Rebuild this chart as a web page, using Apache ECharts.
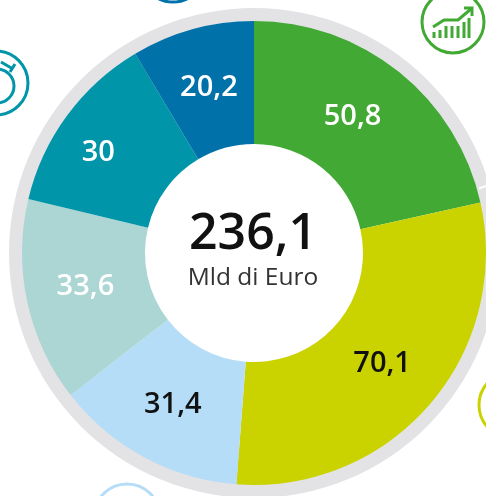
<!DOCTYPE html>
<html>
<head>
<meta charset="utf-8">
<style>html,body{margin:0;padding:0;background:#fff;overflow:hidden}#c{width:486px;height:496px}</style>
<script src="https://cdn.jsdelivr.net/npm/echarts@6/dist/echarts.min.js"></script>
</head>
<body>
<div id="c"></div>
<script>
const values = [50.8, 70.1, 31.4, 33.6, 30, 20.2];
const labels = ['50,8', '70,1', '31,4', '33,6', '30', '20,2'];
const colors = ['#43A935', '#CAD300', '#B5DDF8', '#ABD6D3', '#0095A9', '#0071A9'];
const labelColors = ['#fff', '#111', '#111', '#fff', '#fff', '#fff'];
const labelOffsets = [[-10,-1], [-3,-3], [1,-1], [1,-3], [-16,3], [1,2]];
const totalText = '236,1';
const unitText = 'Mld di Euro';

const font = '"Open Sans", sans-serif';
const cx = 254, cy = 253;
const ring = (x, y, r, color, w) => ({type:'circle', shape:{cx:x, cy:y, r:r}, style:{fill:'none', stroke:color, lineWidth:w}, silent:true});
const line = (pts, color, w) => ({type:'polyline', shape:{points:pts}, style:{fill:'none', stroke:color, lineWidth:w}, silent:true});
const G = '#43A935', T = '#0095A9';

const chart = echarts.init(document.getElementById('c'), null, {renderer:'canvas'});
chart.setOption({
  animation:false,
  backgroundColor:'#fff',
  series:[
    {type:'pie', silent:true, z:1, center:[cx,cy], radius:[200,245], label:{show:false}, labelLine:{show:false},
     data:[{value:1, itemStyle:{color:'#E3E3E6'}}]},
    {type:'pie', silent:true, z:2, center:[cx,cy], radius:[109,232], startAngle:90, clockwise:true,
     labelLine:{show:false},
     data:values.map((v,i)=>({
       value:v, name:labels[i],
       itemStyle:{color:colors[i]},
       label:{show:true, position:'inside', formatter:labels[i], color:labelColors[i],
              fontFamily:font, fontSize:29, fontWeight:600, offset:labelOffsets[i]}
     }))}
  ],
  graphic:[
    {type:'text', z:10, style:{x:cx-1, y:235, text:totalText, fill:'#111', font:'600 50px '+font, textAlign:'center', textVerticalAlign:'middle'}},
    {type:'text', z:10, style:{x:cx-1, y:278, text:unitText, fill:'#333', font:'400 24.5px '+font, textAlign:'center', textVerticalAlign:'middle'}},
    {...line([[479,188.5],[486,186]], '#fff', 2), z:10},
    ring(-4,83,32,T,3), ring(-3,86,17,T,3),
    line([[1,62],[13,69]],T,3), line([[10,72],[15,64]],T,3),
    ring(173,-31,33,'#0071A9',3),
    ring(453,22,31,G,3),
    ring(512,405,33,'#CAD300',3),
    ring(127,517,33,'#B5DDF8',3),
    line([[433,27],[444,20],[458,20],[471,9]],G,3),
    line([[464,8],[472,8],[472,16]],G,3),
    line([[434,32],[434,38]],G,3), line([[440,30],[440,38]],G,3), line([[446,26],[446,38]],G,3),
    line([[452,26],[452,38]],G,3), line([[458,26],[458,38]],G,3), line([[464,22],[464,38]],G,3), line([[469,18],[469,38]],G,3)
  ]
});
</script>
</body>
</html>
